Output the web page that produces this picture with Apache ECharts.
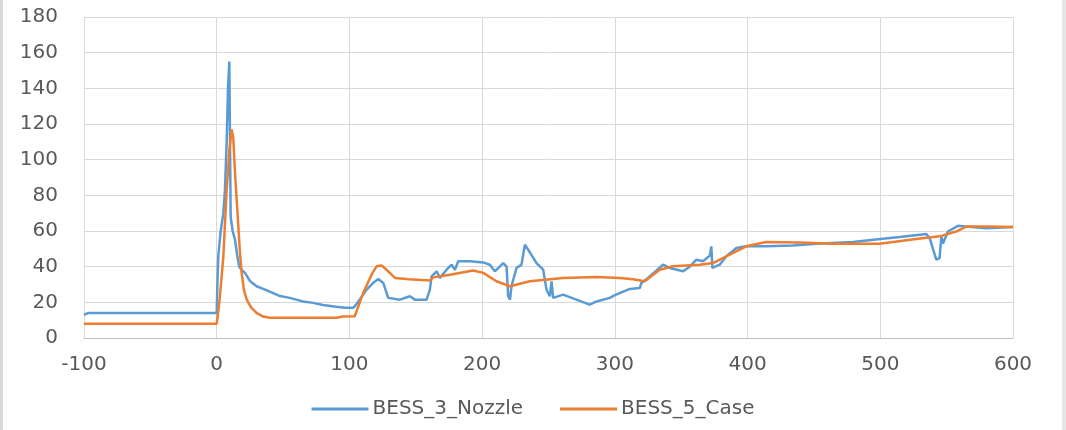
<!DOCTYPE html>
<html>
<head>
<meta charset="utf-8">
<script src="https://cdn.jsdelivr.net/npm/echarts@6/dist/echarts.min.js"></script>
<style>
	html, body { margin: 0; padding: 0; background: #ffffff; }
	#chart { width: 1066px; height: 430px; }
</style>
</head>
<body>
<div id="chart"></div>
<script>
// x ticks / y ticks
const xTicks = [-100, 0, 100, 200, 300, 400, 500, 600];
const yTicks = [0, 20, 40, 60, 80, 100, 120, 140, 160, 180];

// BESS_3_Nozzle
const nozzleX = [-100, -97, 0, 0.5, 1.2, 3, 5, 6.2, 7.5, 8.5, 9.5, 10.5, 12, 13.8, 15.5, 17, 19, 21.3, 25, 30, 35, 40, 47.7, 55, 60, 65, 72.8, 80, 90, 97, 102.9,
	105, 112.9, 118, 121.7, 125.5, 129.2, 138, 145.5, 149.3, 158.1, 160.6, 161.9, 165.7, 168.2, 173.2, 177, 179.5, 182, 190.8, 200.8, 205.8, 209.6, 215.9, 218.4,
	219.6, 221, 222.1, 225.9, 229.6, 232.2, 234.7, 241, 246, 248.5, 251, 252.3, 253.5, 261, 271, 281, 286.2, 296.2, 300, 311.3, 318.8, 320, 325, 336.3, 341.3,
	351.4, 356.4, 361.4, 366.4, 371.5, 372.7, 373.5, 379, 384, 391.6, 399, 414, 434.2, 451.8, 479.4, 500, 514.6, 534.7, 537.2, 542.2, 544.7, 546, 547.2, 551,
	558.5, 564.7, 579.8, 600];
const nozzleY = [13, 14, 14, 30, 46, 60, 70, 83, 110, 140, 155, 68, 60, 55, 46, 40, 38, 36.5, 32, 29, 27.5, 26, 23.5, 22.5, 21.5, 20.5, 19.7, 18.5, 17.5, 17, 16.9,
	18.7, 27, 31, 33.1, 30.9, 22.5, 21.5, 23.4, 21.5, 21.5, 27, 34.6, 37.4, 33.7, 38.3, 41.1, 38.3, 43, 43, 42.4, 41.1, 37.4, 42, 40,
	23.4, 21.5, 29, 39.3, 41, 52.3, 49.5, 42, 38.3, 27.1, 23.4, 31.8, 22.5, 24.3, 21.5, 18.7, 20.5, 22.5, 24, 27.5, 28, 30.9, 33.7, 41.1, 39.3,
	37.4, 40, 43.9, 43, 46.2, 51.4, 39.3, 41.1, 45.8, 50.5, 51.4, 51.4, 51.9, 52.9, 53.8, 55.5, 56.6, 58.3, 56, 43.9, 44.8, 57, 53, 59.7,
	62.9, 62.5, 61.6, 62.2];

// BESS_5_Case
const caseX = [-100, 0, 0.5, 2, 5, 7.5, 9.5, 11.3, 12.5, 13.8, 15, 16.3, 17.5, 18.8, 20.5, 22.6, 26, 30, 35, 40, 90, 95, 104, 110.4, 117, 120.4, 124.2, 129.2,
	134.3, 145, 160.6, 163, 175.7, 193.2, 200.8, 210.8, 220.9, 235.9, 261, 286.2, 303.7, 313.7, 322.5, 333.8, 343.8, 363.9, 373.9, 384, 399, 414, 439.2,
	464.3, 499.4, 527, 544.7, 557.2, 564.7, 580, 600];
const caseY = [8, 8, 8.5, 20, 45.8, 83, 105, 117, 112, 92.4, 78, 62.5, 48, 36.5, 27, 21.5, 17, 14.1, 12, 11.3, 11.3, 12, 12.2, 25.3, 36, 40.2, 40.7, 37.4,
	33.7, 33, 32.2, 34, 35.5, 37.9, 36.5, 31.8, 29, 31.8, 33.7, 34.2, 33.7, 33, 31.8, 38.3, 40.2, 41.1, 42, 45.8, 51.4, 53.8, 53.6,
	52.9, 52.9, 55.5, 57, 59.7, 62.5, 62.5, 62.2];

const seriesNames = ["BESS_3_Nozzle", "BESS_5_Case"];
const seriesColors = ["#5B9BD5", "#ED7D31"];

const zip = (xs, ys) => xs.map((x, i) => [x, ys[i]]);

const chart = echarts.init(document.getElementById("chart"), null, { renderer: "canvas" });
const labelFont = { color: "#595959", fontSize: 20, fontFamily: "DejaVu Sans" };

chart.setOption({
	animation: false,
	backgroundColor: "#ffffff",
	grid: { left: 84, right: 53, top: 17, bottom: 92 },
	graphic: [
		{ type: "rect", left: 0, top: 0, shape: { width: 3, height: 430 }, style: { fill: "#d9d9d9" } },
		{ type: "rect", right: 0, top: 0, shape: { width: 4, height: 430 }, style: { fill: "#e6e6e6" } },
	],
	legend: {
		bottom: 6,
		left: "center",
		itemWidth: 57,
		itemHeight: 3,
		itemGap: 37,
		icon: "rect",
		textStyle: { color: "#595959", fontSize: 20, fontFamily: "DejaVu Sans", padding: [0, 0, 0, -1] },
		data: seriesNames,
	},
	xAxis: {
		type: "value",
		min: xTicks[0],
		max: xTicks[xTicks.length - 1],
		interval: 100,
		axisLine: { show: true, onZero: false, lineStyle: { color: "#bfbfbf", width: 1 } },
		axisTick: { show: false },
		axisLabel: { ...labelFont, margin: 17 },
		splitLine: { show: true, lineStyle: { color: "#d9d9d9", width: 1 } },
	},
	yAxis: {
		type: "value",
		min: yTicks[0],
		max: yTicks[yTicks.length - 1],
		interval: 20,
		axisLine: { show: false },
		axisTick: { show: false },
		axisLabel: { ...labelFont, margin: 26 },
		splitLine: { show: true, lineStyle: { color: "#d9d9d9", width: 1 } },
	},
	series: [
		{
			name: seriesNames[0],
			type: "line",
			data: zip(nozzleX, nozzleY),
			showSymbol: false,
			color: seriesColors[0],
			lineStyle: { width: 2.5, color: seriesColors[0] },
			z: 2,
		},
		{
			name: seriesNames[1],
			type: "line",
			data: zip(caseX, caseY),
			showSymbol: false,
			color: seriesColors[1],
			lineStyle: { width: 2.5, color: seriesColors[1] },
			z: 3,
		},
	],
});
</script>
</body>
</html>
